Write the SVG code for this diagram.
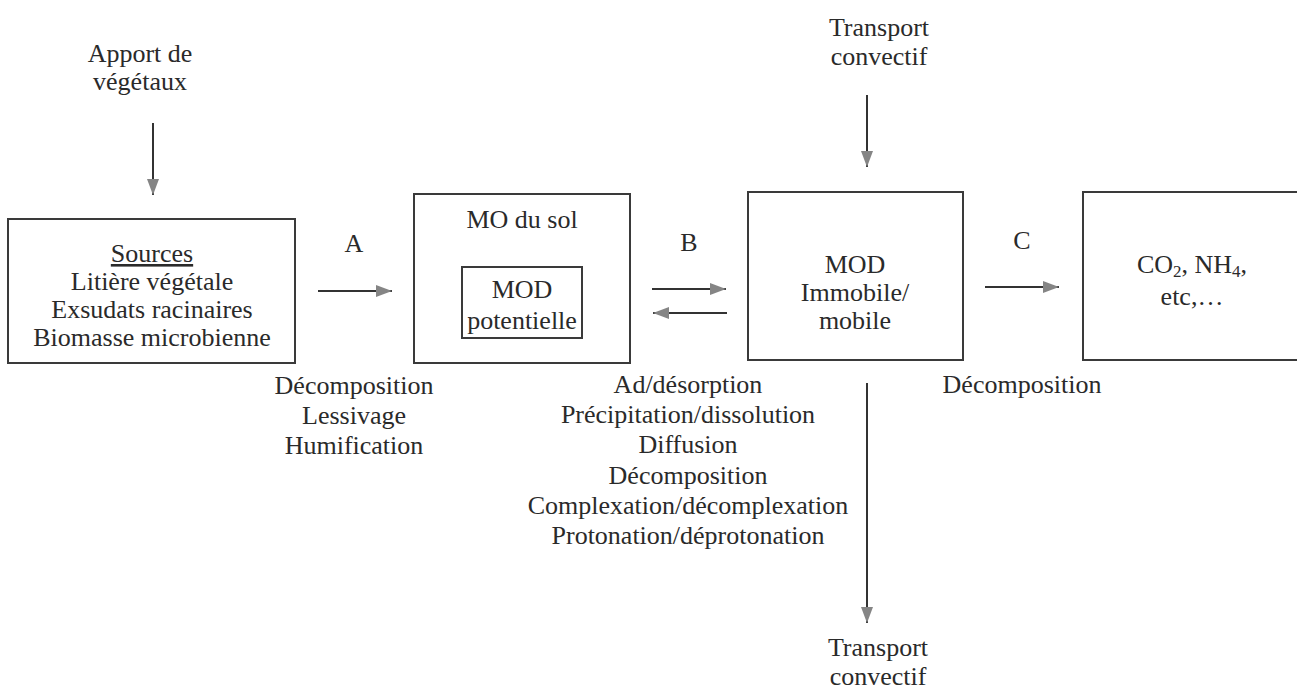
<svg xmlns="http://www.w3.org/2000/svg" width="1297" height="692" viewBox="0 0 1297 692">
<defs>
<marker id="ah" markerUnits="userSpaceOnUse" viewBox="0 0 16 12" markerWidth="16" markerHeight="12" refX="16" refY="6" orient="auto">
<path d="M0,0 L16,6 L0,12 z" fill="#858585"/>
</marker>
<style>
text{font-family:"Liberation Serif","Times New Roman",serif;font-size:26px;fill:#2a2a2a;text-anchor:middle}
.box{fill:none;stroke:#3a3a3a;stroke-width:2}
.arr{stroke:#333;stroke-width:2;fill:none;marker-end:url(#ah)}
.sub{font-size:17px}
</style>
</defs>
<rect width="1297" height="692" fill="#fff"/>
<g id="sources">
<rect class="box" x="8" y="219" width="287" height="144"/>
<text x="152" y="262" text-decoration="underline">Sources</text>
<text x="152" y="290">Litière végétale</text>
<text x="152" y="318">Exsudats racinaires</text>
<text x="152" y="346">Biomasse microbienne</text>
</g>
<g id="mo-sol">
<rect class="box" x="414" y="194" width="216" height="169"/>
<text x="522" y="228">MO du sol</text>
</g>
<g id="mod-potentielle">
<rect class="box" x="462" y="267" width="120" height="71"/>
<text x="522" y="298">MOD</text>
<text x="522" y="329">potentielle</text>
</g>
<g id="mod-immobile">
<rect class="box" x="748" y="192" width="215" height="168"/>
<text x="855" y="273">MOD</text>
<text x="855" y="301">Immobile/</text>
<text x="855" y="329">mobile</text>
</g>
<g id="co2">
<rect class="box" x="1083" y="192" width="230" height="168"/>
<text x="1192" y="273">CO<tspan class="sub" dy="4">2</tspan><tspan dy="-4">, NH</tspan><tspan class="sub" dy="4">4</tspan><tspan dy="-4">,</tspan></text>
<text x="1192" y="305">etc,…</text>
</g>
<g id="apport">
<text x="140" y="62">Apport de</text>
<text x="140" y="90">végétaux</text>
</g>
<g id="transport-in">
<text x="879" y="36">Transport</text>
<text x="879" y="65">convectif</text>
</g>
<g id="transport-out">
<text x="878" y="656">Transport</text>
<text x="878" y="685">convectif</text>
</g>
<g id="labels">
<text x="354" y="252">A</text>
<text x="689" y="251">B</text>
<text x="1022" y="249">C</text>
<text x="354" y="394">Décomposition</text>
<text x="354" y="424">Lessivage</text>
<text x="354" y="454">Humification</text>
<text x="688" y="393">Ad/désorption</text>
<text x="688" y="423">Précipitation/dissolution</text>
<text x="688" y="453">Diffusion</text>
<text x="688" y="484">Décomposition</text>
<text x="688" y="514">Complexation/décomplexation</text>
<text x="688" y="544">Protonation/déprotonation</text>
<text x="1022" y="393">Décomposition</text>
</g>
<g id="connectors">
<line class="arr" x1="153" y1="123" x2="153" y2="195"/>
<line class="arr" x1="867" y1="95" x2="867" y2="167"/>
<line class="arr" x1="867" y1="383" x2="867" y2="623"/>
<line class="arr" x1="318" y1="291" x2="392" y2="291"/>
<line class="arr" x1="652" y1="289" x2="726" y2="289"/>
<line class="arr" x1="727" y1="313" x2="653" y2="313"/>
<line class="arr" x1="985" y1="287" x2="1059" y2="287"/>
</g>
</svg>
